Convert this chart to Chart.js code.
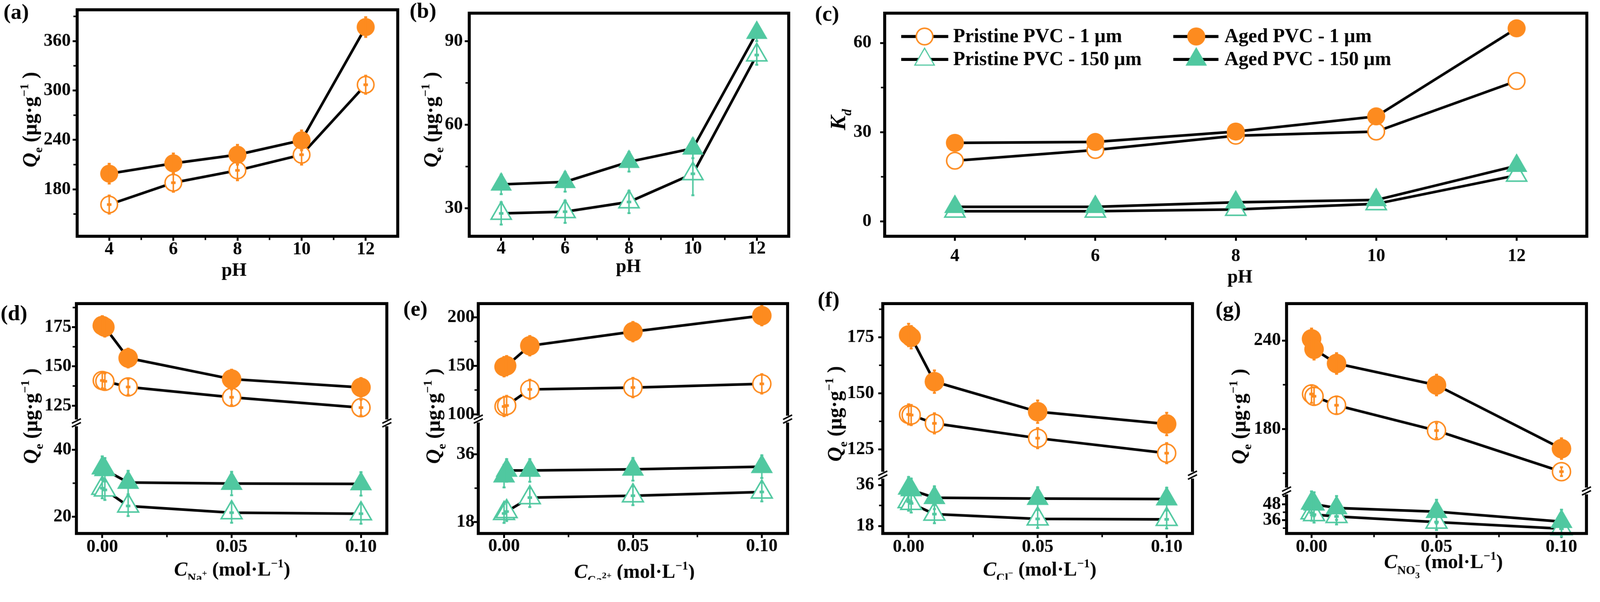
<!DOCTYPE html>
<html>
<head>
<meta charset="utf-8">
<title>PVC sorption panels</title>
<script src="https://cdn.jsdelivr.net/npm/chart.js@4.4.1/dist/chart.umd.min.js"></script>
<style>
  html, body { margin: 0; padding: 0; background: #fff; overflow: hidden; }
  body { position: relative; }
  canvas { position: absolute; left: 0; top: 0; }
</style>
</head>
<body>
<script>
// ---------- data ----------
const pHValues = [4, 6, 8, 10, 12];
const pHTicks = [4, 6, 8, 10, 12];
const pHMinor = [5, 7, 9, 11];
const conc = [0, 0.001, 0.01, 0.05, 0.1];
const concTicks = [0, 0.05, 0.1];
const concMinor = [0.025, 0.075];

// (a) Qe vs pH, 1 um
const qeAged1 = [199, 211.5, 222, 239.5, 377];
const qePristine1 = [161.5, 188, 203, 222, 307];
const errAged1 = [12, 12, 12, 12, 12];
const errPristine1 = [11, 11, 12, 12, 11];
// (b) Qe vs pH, 150 um
const qeAged150 = [38.6, 39.5, 46.7, 51.5, 93];
const qePristine150 = [28.2, 28.8, 32.3, 42.4, 85];
const errAged150 = [3.5, 3.5, 3.5, 3.5, 3];
const errPristine150 = [4, 4, 4, 7.7, 3.5];
// (c) Kd vs pH
const kdAged1 = [26.4, 26.7, 30.2, 35.3, 64.9];
const kdPristine1 = [20.4, 24.0, 28.8, 30.2, 47.2];
const kdAged150 = [4.9, 4.9, 6.4, 7.2, 18.7];
const kdPristine150 = [3.4, 3.4, 4.0, 5.9, 15.5];
// (d) Na+
const naAged1 = [176, 175, 155.3, 141.9, 136.6];
const naPristine1 = [141, 140.5, 136.9, 130.3, 123.7];
const naAged150 = [34.5, 34, 30.2, 29.9, 29.8];
const naPristine150 = [28.5, 28, 23.2, 21.2, 20.9];
const naErrAged1 = [6, 6, 6, 6, 6];
const naErrPristine1 = [5, 5, 5, 5, 5];
const naErrAged150 = [3.5, 3.5, 3.5, 3.5, 3.5];
const naErrPristine150 = [3, 3, 3, 3, 3];
// (e) Ca2+
const caAged1 = [149, 150, 170.6, 185.1, 201.6];
const caPristine1 = [108, 109, 125.6, 127.5, 131.3];
const caAged150 = [30.2, 31.7, 31.7, 32.0, 32.7];
const caPristine150 = [20.3, 20.8, 24.5, 25.0, 26.0];
const caErrAged1 = [10, 10, 10, 10, 10];
const caErrPristine1 = [10, 10, 10, 10, 10];
const caErrAged150 = [3, 3, 3, 3, 3];
const caErrPristine150 = [2.5, 2.5, 2.5, 2.5, 2.5];
// (f) Cl-
const clAged1 = [176, 175, 155.2, 141.8, 136.3];
const clPristine1 = [140.6, 140.3, 136.6, 130.0, 123.3];
const clAged150 = [34.5, 33.8, 30.4, 30.0, 29.8];
const clPristine150 = [28.7, 27.9, 23.2, 21.1, 20.9];
const clErrAged1 = [5, 5, 5, 5, 5];
const clErrPristine1 = [4.5, 4.5, 4.5, 4.5, 4.5];
const clErrAged150 = [5, 5, 5, 5, 5];
const clErrPristine150 = [4, 4, 4, 4, 4];
// (g) NO3-
const no3Aged1 = [241.1, 234.1, 224.4, 209.8, 166.7];
const no3Pristine1 = [203.7, 202.2, 196.1, 178.9, 151.1];
const no3Aged150 = [48.7, 48.0, 45.2, 42.4, 34.9];
const no3Pristine150 = [41.6, 40.2, 38.8, 34.6, 29.6];
const no3ErrAged1 = [7, 7, 7, 7, 7];
const no3ErrPristine1 = [6, 6, 6, 5, 3];
const no3ErrAged150 = [9, 9, 9, 9, 9];
const no3ErrPristine150 = [6, 6, 6, 6, 6];

// y tick values
const aYTicks = [180, 240, 300, 360], aYMinor = [150, 210, 270, 330, 390];
const bYTicks = [30, 60, 90], bYMinor = [45, 75];
const cYTicks = [0, 30, 60], cYMinor = [15, 45];
const dTopTicks = [125, 150, 175], dTopMinor = [137.5, 162.5, 187.5];
const dBotTicks = [20, 40], dBotMinor = [30];
const eTopTicks = [100, 150, 200], eTopMinor = [125, 175];
const eBotTicks = [18, 36], eBotMinor = [27];
const fTopTicks = [125, 150, 175], fTopMinor = [137.5, 162.5, 187.5];
const fBotTicks = [18, 36], fBotMinor = [27];
const gTopTicks = [180, 240], gTopMinor = [150, 210];
const gBotTicks = [36, 48], gBotMinor = [30, 42, 54];

// ---------- style ----------
const PAGE_W = 4252, PAGE_H = 1541;
// fit the drawing to the real viewport width (1 when the window is 4252 wide)
let FIT = window.innerWidth / PAGE_W;
if (!isFinite(FIT) || FIT < 0.5 || FIT > 2) FIT = 1;
document.body.style.width = (PAGE_W * FIT) + 'px';
document.body.style.height = (PAGE_H * FIT) + 'px';

const ORANGE = '#FD8B1F';
const GREEN = '#50C8A0';
const FONT = '"Liberation Serif", "Times New Roman", serif';
const TICK_FONT = { family: FONT, size: 48, weight: 'bold', lineHeight: 1 };
Chart.defaults.font.family = FONT;

const QE_TITLE = [{ t: 'Q', it: 1 }, { t: 'e', sc: .6, dy: .28 }, { t: ' (µg·g' }, { t: '−1', sc: .6, dy: -.42 }, { t: ' )' }];
const KD_TITLE = [{ t: 'K', it: 1 }, { t: 'd', it: 1, sc: .6, dy: .28 }];
const PH_TITLE = [{ t: 'pH' }];
function concTitle(ion) {
  return [{ t: 'C', it: 1 }].concat(ion, [{ t: ' (mol·L' }, { t: '−1', sc: .6, dy: -.42 }, { t: ')' }]);
}
const NA = [{ t: 'Na', sc: .6, dy: .3 }, { t: '+', sc: .45, dy: .02 }];
const CA = [{ t: 'Ca', sc: .6, dy: .3 }, { t: '2+', sc: .45, dy: .02 }];
const CL = [{ t: 'Cl', sc: .6, dy: .3 }, { t: '−', sc: .45, dy: .02 }];
const NO3 = [{ t: 'NO', sc: .6, dy: .3 }, { t: '−', sc: .45, dy: .02, keep: 1 }, { t: '3', sc: .45, dy: .5 }];

function mk(label, xs, ys, err, kind, axis, big) {
  const circle = kind[1] === 'C', open = kind[0] === 'o';
  const col = circle ? ORANGE : GREEN;
  const r = circle ? (big ? 26 : 24) : (big ? 34 : 33);
  return {
    label, data: xs.map((x, i) => ({ x, y: ys[i] })), yAxisID: axis,
    borderColor: '#000', borderWidth: 7, fill: false, clip: false, tension: 0,
    pointStyle: circle ? 'circle' : 'triangle',
    pointRadius: open ? r - 2 : r, pointBorderWidth: open ? 4 : 0,
    pointBackgroundColor: open ? '#fff' : col, pointBorderColor: col,
    err, errColor: col, open
  };
}

function drawRich(ctx, runs, x, y, size, vertical) {
  const font = r => (r.it ? 'italic ' : '') + 'bold ' + (size * (r.sc || 1)).toFixed(1) + 'px ' + FONT;
  let w = 0;
  runs.forEach(r => { ctx.font = font(r); if (!r.keep) w += ctx.measureText(r.t).width; });
  ctx.save();
  ctx.translate(x, y);
  if (vertical) ctx.rotate(-Math.PI / 2);
  ctx.fillStyle = '#000'; ctx.textAlign = 'left'; ctx.textBaseline = 'alphabetic';
  let cx = -w / 2;
  runs.forEach(r => {
    ctx.font = font(r);
    ctx.fillText(r.t, cx, size * 0.34 + (r.dy || 0) * size);
    if (!r.keep) cx += ctx.measureText(r.t).width;
  });
  ctx.restore();
}

function line(ctx, x1, y1, x2, y2) {
  ctx.beginPath(); ctx.moveTo(x1, y1); ctx.lineTo(x2, y2); ctx.stroke();
}

function marker(ctx, style, r, x, y) {
  ctx.beginPath();
  if (style === 'circle') ctx.arc(x, y, r, 0, Math.PI * 2);
  else {
    ctx.moveTo(x, y - r);
    ctx.lineTo(x + r * 0.866, y + r / 2);
    ctx.lineTo(x - r * 0.866, y + r / 2);
    ctx.closePath();
  }
  ctx.fill();
}

// error bars, drawn right after each dataset so layering follows the datasets
const errorBars = {
  id: 'errorBars',
  afterDatasetDraw(chart, args) {
    const d = chart.data.datasets[args.index];
    if (!d.err) return;
    const ctx = chart.ctx, xs = args.meta.xScale, ys = args.meta.yScale;
    ctx.save();
    ctx.strokeStyle = d.errColor; ctx.lineCap = 'butt';
    d.data.forEach((pt, j) => {
      const x = xs.getPixelForValue(pt.x), y0 = ys.getPixelForValue(pt.y);
      const y1 = ys.getPixelForValue(pt.y + d.err[j]), y2 = ys.getPixelForValue(pt.y - d.err[j]);
      ctx.lineWidth = 4; line(ctx, x, y1, x, y2);
      ctx.lineWidth = 5; line(ctx, x - 4, y1, x + 4, y1); line(ctx, x - 4, y2, x + 4, y2);
      if (d.open) { ctx.lineWidth = 7; line(ctx, x - 6, y0, x + 6, y0); }
    });
    ctx.restore();
  }
};

// frame, minor ticks, axis break, titles and legend (page coordinates)
function deco(s) {
  return {
    id: 'deco',
    afterDraw(chart) {
      const ctx = chart.ctx, a = chart.chartArea;
      ctx.save();
      ctx.strokeStyle = '#000'; ctx.lineCap = 'butt';
      ctx.lineWidth = 4;
      s.xm.forEach(v => { const x = chart.scales.x.getPixelForValue(v); line(ctx, x, a.bottom, x, a.bottom + 10); });
      ['y', 'yBot', 'yTop'].forEach(id => {
        if (!s[id]) return;
        s[id].m.forEach(v => { const y = chart.scales[id].getPixelForValue(v); line(ctx, a.left - 10, y, a.left, y); });
      });
      ctx.lineWidth = 8;
      if (!chart.scales.yTop) {
        ctx.strokeRect(a.left, a.top, a.right - a.left, a.bottom - a.top);
      } else {
        const yb = chart.scales.yTop.bottom;
        ctx.beginPath();
        ctx.moveTo(a.left - 4, a.top); ctx.lineTo(a.right + 4, a.top);
        ctx.moveTo(a.left - 4, a.bottom); ctx.lineTo(a.right + 4, a.bottom);
        [a.left, a.right].forEach(x => {
          ctx.moveTo(x, a.top); ctx.lineTo(x, yb - 9);
          ctx.moveTo(x, yb + 9); ctx.lineTo(x, a.bottom);
        });
        ctx.stroke();
        ctx.lineWidth = 4;
        [a.left, a.right].forEach(x => [-5, 5].forEach(d => line(ctx, x - 12, yb + d + 6, x + 12, yb + d - 6)));
      }
      // texts
      ctx.fillStyle = '#000'; ctx.textAlign = 'center'; ctx.textBaseline = 'middle';
      ctx.font = 'bold 58px ' + FONT;
      ctx.fillText(s.letter[0], s.letter[1], s.letter[2]);
      drawRich(ctx, s.xTitle[0], s.xTitle[1], s.xTitle[2], s.xTitle[3], false);
      drawRich(ctx, s.yTitle[0], s.yTitle[1], s.yTitle[2], s.yTitle[3], true);
      if (s.legend) {
        const L = s.legend;
        L.order.forEach((di, k) => {
          const d = chart.data.datasets[di];
          const col = k % 2, row = Math.floor(k / 2);
          const y = L.rows[row];
          ctx.lineWidth = 8; ctx.strokeStyle = '#000';
          line(ctx, L.lineX[col][0], y, L.lineX[col][1], y);
          const mx = L.markX[col];
          if (d.open) {
            ctx.fillStyle = d.pointBorderColor; marker(ctx, d.pointStyle, d.pointRadius + 2, mx, y);
            ctx.fillStyle = '#fff'; marker(ctx, d.pointStyle, d.pointRadius - 2 - (d.pointStyle === 'triangle' ? 2 : 0), mx, y);
          } else {
            ctx.fillStyle = d.pointBackgroundColor; marker(ctx, d.pointStyle, d.pointRadius, mx, y);
          }
          ctx.fillStyle = '#000'; ctx.textAlign = 'left'; ctx.textBaseline = 'middle';
          ctx.font = 'bold 52px ' + FONT;
          ctx.fillText(d.label, L.textX[col], y + 2);
        });
      }
      ctx.restore();
    }
  };
}

function noPad(sc) { sc.paddingTop = 0; sc.paddingBottom = 0; sc.paddingLeft = 0; sc.paddingRight = 0; }

function xAxis(min, max, ticks, fmt, h, pad) {
  return {
    type: 'linear', min, max,
    afterBuildTicks: sc => { sc.ticks = ticks.map(v => ({ value: v })); },
    afterFit: sc => { sc.height = h; noPad(sc); },
    ticks: { font: TICK_FONT, color: '#000', padding: pad, maxRotation: 0, autoSkip: false, callback: fmt },
    grid: { drawOnChartArea: false, tickLength: 12, tickWidth: 5, tickColor: '#000' },
    border: { display: false }
  };
}
function yAxis(c, w, pad, extra) {
  return Object.assign({
    type: 'linear', position: 'left', min: c.min, max: c.max,
    afterBuildTicks: sc => { sc.ticks = c.t.map(v => ({ value: v })); },
    afterFit: sc => { sc.width = w; noPad(sc); },
    ticks: { font: TICK_FONT, color: '#000', padding: pad, autoSkip: false, callback: v => String(v) },
    grid: { drawOnChartArea: false, tickLength: 12, tickWidth: 5, tickColor: '#000' },
    border: { display: false }
  }, extra);
}

const TOP = { t: 18, b: 628, xH: 150 };
const BOT = { t: 807, b: 1418, xH: 123 };
const pHFmt = v => String(v);
const concFmt = v => v.toFixed(2);

const specs = [
  { l: 205, r: 1057, row: TOP, yPad: 5, xPad: 0, x: [3, 13], xt: pHTicks, xm: pHMinor, fmt: pHFmt,
    y: { min: 123, max: 398, t: aYTicks, m: aYMinor },
    sets: [mk('Aged PVC - 1 µm', pHValues, qeAged1, errAged1, 'fC', 'y'),
           mk('Pristine PVC - 1 µm', pHValues, qePristine1, errPristine1, 'oC', 'y')],
    letter: ['(a)', 43, 35], xTitle: [PH_TITLE, 622, 716, 50], yTitle: [QE_TITLE, 79, 318, 54] },
  { l: 1247, r: 2096, row: TOP, yPad: 5, xPad: -2, x: [3, 13], xt: pHTicks, xm: pHMinor, fmt: pHFmt,
    y: { min: 20, max: 100, t: bYTicks, m: bYMinor },
    sets: [mk('Aged PVC - 150 µm', pHValues, qeAged150, errAged150, 'fT', 'y'),
           mk('Pristine PVC - 150 µm', pHValues, qePristine150, errPristine150, 'oT', 'y')],
    letter: ['(b)', 1124, 32], xTitle: [PH_TITLE, 1670, 706, 50], yTitle: [QE_TITLE, 1145, 318, 54] },
  { l: 2351, r: 4240, row: TOP, yPad: 23, xPad: 18, x: [3, 13], xt: pHTicks, xm: pHMinor, fmt: pHFmt,
    y: { min: -5, max: 70, t: cYTicks, m: cYMinor },
    sets: [mk('Aged PVC - 1 µm', pHValues, kdAged1, null, 'fC', 'y'),
           mk('Pristine PVC - 1 µm', pHValues, kdPristine1, null, 'oC', 'y'),
           mk('Aged PVC - 150 µm', pHValues, kdAged150, null, 'fT', 'y'),
           mk('Pristine PVC - 150 µm', pHValues, kdPristine150, null, 'oT', 'y')],
    legend: { order: [1, 0, 3, 2], rows: [97, 158], lineX: [[2395, 2520], [3118, 3238]], markX: [2457, 3179], textX: [2533, 3254] },
    letter: ['(c)', 2198, 40], xTitle: [PH_TITLE, 3295, 734, 50], yTitle: [KD_TITLE, 2226, 318, 58] },
  { l: 203, r: 1028, row: BOT, yPad: 1, xPad: 1, x: [-0.01, 0.11], xt: concTicks, xm: concMinor, fmt: concFmt,
    yBot: { min: 15, max: 48, t: dBotTicks, m: dBotMinor, w: 294 },
    yTop: { min: 114, max: 190, t: dTopTicks, m: dTopMinor, w: 317 },
    sets: [mk('Aged PVC - 1 µm', conc, naAged1, naErrAged1, 'fC', 'yTop', 1),
           mk('Pristine PVC - 1 µm', conc, naPristine1, naErrPristine1, 'oC', 'yTop', 1),
           mk('Aged PVC - 150 µm', conc, naAged150, naErrAged150, 'fT', 'yBot', 1),
           mk('Pristine PVC - 150 µm', conc, naPristine150, naErrPristine150, 'oT', 'yBot', 1)],
    letter: ['(d)', 37, 836], xTitle: [concTitle(NA), 617, 1512, 53], yTitle: [QE_TITLE, 81, 1106, 54] },
  { l: 1271, r: 2093, row: BOT, yPad: -2, xPad: -1, x: [-0.01, 0.11], xt: concTicks, xm: concMinor, fmt: concFmt,
    yBot: { min: 15, max: 45.3, t: eBotTicks, m: eBotMinor, w: 304 },
    yTop: { min: 95, max: 214, t: eTopTicks, m: eTopMinor, w: 307 },
    sets: [mk('Aged PVC - 1 µm', conc, caAged1, caErrAged1, 'fC', 'yTop', 1),
           mk('Pristine PVC - 1 µm', conc, caPristine1, caErrPristine1, 'oC', 'yTop', 1),
           mk('Aged PVC - 150 µm', conc, caAged150, caErrAged150, 'fT', 'yBot', 1),
           mk('Pristine PVC - 150 µm', conc, caPristine150, caErrPristine150, 'oT', 'yBot', 1)],
    letter: ['(e)', 1104, 824], xTitle: [concTitle(CA), 1686, 1518, 53], yTitle: [QE_TITLE, 1151, 1106, 54] },
  { l: 2346, r: 3169, row: BOT, yPad: 11, xPad: 1, x: [-0.01, 0.11], xt: concTicks, xm: concMinor, fmt: concFmt,
    yBot: { min: 14.7, max: 40.3, t: fBotTicks, m: fBotMinor, w: 155 },
    yTop: { min: 113.5, max: 190, t: fTopTicks, m: fTopMinor, w: 456 },
    sets: [mk('Aged PVC - 1 µm', conc, clAged1, clErrAged1, 'fC', 'yTop', 1),
           mk('Pristine PVC - 1 µm', conc, clPristine1, clErrPristine1, 'oC', 'yTop', 1),
           mk('Aged PVC - 150 µm', conc, clAged150, clErrAged150, 'fT', 'yBot', 1),
           mk('Pristine PVC - 150 µm', conc, clPristine150, clErrPristine150, 'oT', 'yBot', 1)],
    letter: ['(f)', 2202, 800], xTitle: [concTitle(CL), 2763, 1512, 53], yTitle: [QE_TITLE, 2218, 1100, 54] },
  { l: 3419, r: 4247, row: BOT, yPad: 3, xPad: 1, x: [-0.01, 0.11], xt: concTicks, xm: concMinor, fmt: concFmt,
    yBot: { min: 26, max: 58, t: gBotTicks, m: gBotMinor, w: 113 },
    yTop: { min: 138, max: 265, t: gTopTicks, m: gTopMinor, w: 498 },
    sets: [mk('Aged PVC - 1 µm', conc, no3Aged1, no3ErrAged1, 'fC', 'yTop', 1),
           mk('Pristine PVC - 1 µm', conc, no3Pristine1, no3ErrPristine1, 'oC', 'yTop', 1),
           mk('Aged PVC - 150 µm', conc, no3Aged150, no3ErrAged150, 'fT', 'yBot', 1),
           mk('Pristine PVC - 150 µm', conc, no3Pristine150, no3ErrPristine150, 'oT', 'yBot', 1)],
    letter: ['(g)', 3264, 826], xTitle: [concTitle(NO3), 3836, 1492, 53], yTitle: [QE_TITLE, 3292, 1107, 54] }
];

// every chart gets a full-page transparent canvas; its plot box is set by layout padding
function build(s) {
  const yW = 200, row = s.row;
  const cv = document.createElement('canvas');
  cv.width = PAGE_W; cv.height = PAGE_H;
  cv.style.width = (PAGE_W * FIT) + 'px'; cv.style.height = (PAGE_H * FIT) + 'px';
  document.body.appendChild(cv);

  const scales = { x: xAxis(s.x[0], s.x[1], s.xt, s.fmt, row.xH, s.xPad) };
  if (s.y) {
    scales.y = yAxis(s.y, yW, s.yPad, {});
  } else {
    // bottom part first: the stack places later scales on top
    scales.yBot = yAxis(s.yBot, yW, s.yPad, { stack: 'q', stackWeight: s.yBot.w });
    scales.yTop = yAxis(s.yTop, yW, s.yPad, { stack: 'q', stackWeight: s.yTop.w });
  }

  new Chart(cv, {
    type: 'line',
    data: { datasets: s.sets },
    options: {
      responsive: false,
      devicePixelRatio: 1,
      animation: false,
      layout: { padding: { left: s.l - yW, right: PAGE_W - s.r, top: row.t, bottom: PAGE_H - row.b - row.xH } },
      plugins: { legend: { display: false }, tooltip: { enabled: false } },
      scales
    },
    plugins: [errorBars, deco(s)]
  });
}

specs.forEach(build);
</script>
</body>
</html>
